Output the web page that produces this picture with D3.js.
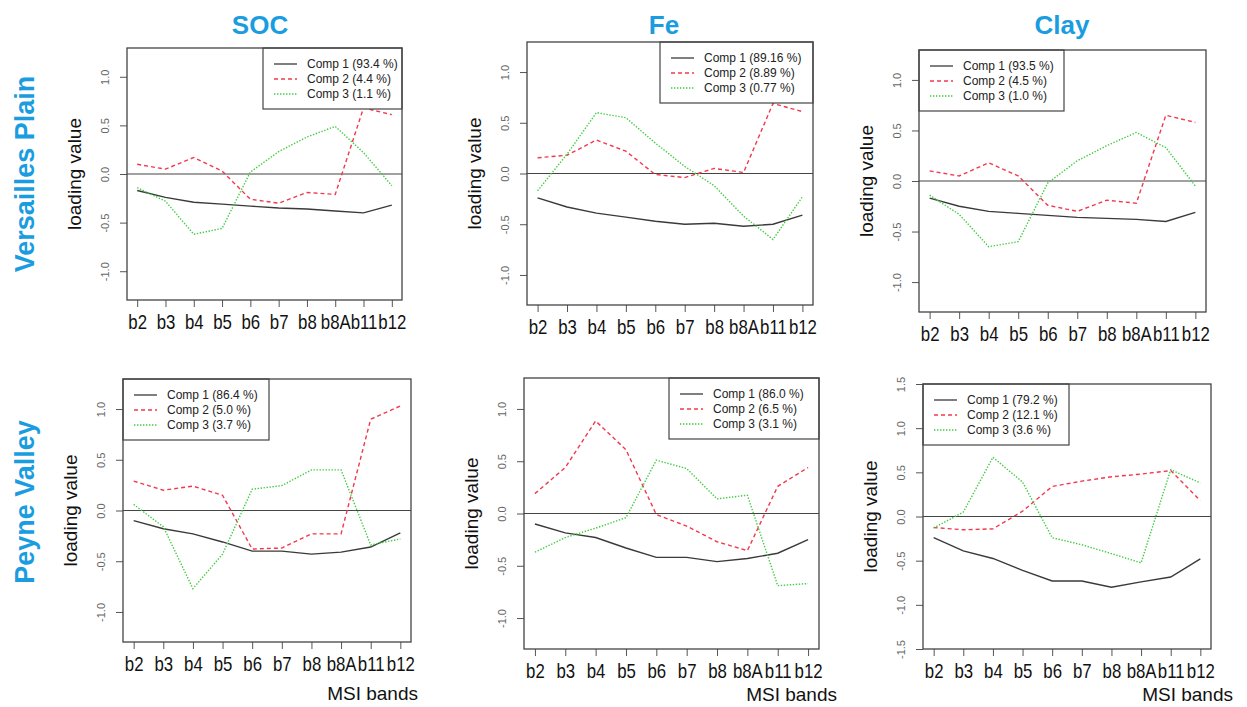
<!DOCTYPE html>
<html>
<head>
<meta charset="utf-8">
<script src="https://cdn.jsdelivr.net/npm/d3@7"></script>
<style>
  body { margin: 0; background: #fff; }
  text { font-family: "Liberation Sans", Arial, sans-serif; }
</style>
</head>
<body>
<div id="chart"></div>
<script>
// MSI bands on the x axis
var bands = ["b2", "b3", "b4", "b5", "b6", "b7", "b8", "b8A", "b11", "b12"];

// Versailles Plain
var socVersailles1 = [-0.17, -0.24, -0.29, -0.31, -0.33, -0.35, -0.36, -0.38, -0.40, -0.32];
var socVersailles2 = [0.10, 0.05, 0.17, 0.03, -0.26, -0.30, -0.19, -0.21, 0.68, 0.61];
var socVersailles3 = [-0.14, -0.28, -0.62, -0.56, 0.02, 0.23, 0.38, 0.49, 0.22, -0.12];
var socVersaillesPct = ["93.4", "4.4", "1.1"];

var feVersailles1 = [-0.24, -0.33, -0.39, -0.43, -0.47, -0.50, -0.49, -0.52, -0.50, -0.41];
var feVersailles2 = [0.155, 0.18, 0.33, 0.22, -0.01, -0.04, 0.05, 0.01, 0.69, 0.61];
var feVersailles3 = [-0.17, 0.19, 0.60, 0.55, 0.30, 0.07, -0.12, -0.42, -0.65, -0.23];
var feVersaillesPct = ["89.16", "8.89", "0.77"];

var clayVersailles1 = [-0.17, -0.25, -0.30, -0.32, -0.34, -0.36, -0.37, -0.38, -0.40, -0.31];
var clayVersailles2 = [0.10, 0.05, 0.18, 0.05, -0.24, -0.30, -0.19, -0.22, 0.65, 0.58];
var clayVersailles3 = [-0.14, -0.33, -0.65, -0.60, -0.02, 0.20, 0.35, 0.48, 0.33, -0.05];
var clayVersaillesPct = ["93.5", "4.5", "1.0"];

// Peyne Valley
var socPeyne1 = [-0.10, -0.18, -0.23, -0.31, -0.40, -0.40, -0.43, -0.41, -0.36, -0.22];
var socPeyne2 = [0.29, 0.20, 0.24, 0.15, -0.38, -0.37, -0.23, -0.23, 0.90, 1.03];
var socPeyne3 = [0.06, -0.16, -0.77, -0.43, 0.21, 0.245, 0.40, 0.40, -0.34, -0.28];
var socPeynePct = ["86.4", "5.0", "3.7"];

var fePeyne1 = [-0.10, -0.185, -0.23, -0.33, -0.42, -0.42, -0.46, -0.43, -0.38, -0.25];
var fePeyne2 = [0.19, 0.44, 0.885, 0.61, -0.01, -0.12, -0.27, -0.355, 0.26, 0.44];
var fePeyne3 = [-0.37, -0.23, -0.14, -0.04, 0.51, 0.43, 0.14, 0.175, -0.69, -0.67];
var fePeynePct = ["86.0", "6.5", "3.1"];

var clayPeyne1 = [-0.24, -0.39, -0.475, -0.61, -0.73, -0.73, -0.80, -0.74, -0.685, -0.48];
var clayPeyne2 = [-0.125, -0.15, -0.14, 0.06, 0.34, 0.40, 0.45, 0.48, 0.52, 0.18];
var clayPeyne3 = [-0.13, 0.05, 0.67, 0.39, -0.24, -0.32, -0.42, -0.525, 0.53, 0.38];
var clayPeynePct = ["79.2", "12.1", "3.6"];

var yTicks = [-1, -0.5, 0, 0.5, 1];
var yTicksWide = [-1.5, -1, -0.5, 0, 0.5, 1, 1.5];

var columnTitles = ["SOC", "Fe", "Clay"];
var rowTitles = ["Versailles Plain", "Peyne Valley"];

var compColors = ["#3a3a3a", "#f2384e", "#3fcc3f"];
var compDash = [null, "4,3", "1.4,1.6"];

var svg = d3.select("#chart")
  .append("svg")
  .attr("width", 1247)
  .attr("height", 707);

var panels = [
  { comps: [socVersailles1, socVersailles2, socVersailles3], pct: socVersaillesPct, ticks: yTicks, ymax: 1.296,
    box: { x: 127, y: 48, w: 275, h: 252 }, legend: { side: "right", w: 139 }, xlab: null },
  { comps: [feVersailles1, feVersailles2, feVersailles3], pct: feVersaillesPct, ticks: yTicks, ymax: 1.296,
    box: { x: 527, y: 42, w: 286, h: 263 }, legend: { side: "right", w: 153 }, xlab: null },
  { comps: [clayVersailles1, clayVersailles2, clayVersailles3], pct: clayVersaillesPct, ticks: yTicks, ymax: 1.296,
    box: { x: 919, y: 50, w: 287, h: 262 }, legend: { side: "left", w: 145 }, xlab: null },
  { comps: [socPeyne1, socPeyne2, socPeyne3], pct: socPeynePct, ticks: yTicks, ymax: 1.296,
    box: { x: 123, y: 379, w: 288, h: 263 }, legend: { side: "left", w: 146 }, xlab: { right: 418, base: 700 } },
  { comps: [fePeyne1, fePeyne2, fePeyne3], pct: fePeynePct, ticks: yTicks, ymax: 1.296,
    box: { x: 524, y: 378, w: 295, h: 271 }, legend: { side: "right", w: 150 }, xlab: { right: 837, base: 701 } },
  { comps: [clayPeyne1, clayPeyne2, clayPeyne3], pct: clayPeynePct, ticks: yTicksWide, ymax: 1.5,
    box: { x: 923, y: 384, w: 288, h: 265 }, legend: { side: "left", w: 146 }, xlab: { right: 1233, base: 701 } }
];

panels.forEach(function(p) {
  var b = p.box;
  var g = svg.append("g").attr("transform", `translate(${b.x}, ${b.y})`);

  var x = d3.scaleLinear().domain([0.64, 10.36]).range([0, b.w]);
  var y = d3.scaleLinear().domain([-p.ymax, p.ymax]).range([b.h, 0]);

  // x axis, labels narrowed a bit like the original
  var xAxis = g.append("g")
    .attr("transform", `translate(0, ${b.h})`)
    .call(d3.axisBottom(x).tickValues(d3.range(1, 11))
      .tickFormat(i => bands[i - 1]).tickSize(7).tickSizeOuter(0));
  xAxis.select(".domain").remove();
  xAxis.selectAll("line").attr("stroke", "#555");
  xAxis.selectAll("text")
    .attr("y", 15)
    .attr("transform", "scale(0.84,1)")
    .attr("fill", "#111")
    .style("font-size", "20px");

  // y axis with rotated labels
  var yAxis = g.append("g")
    .call(d3.axisLeft(y).tickValues(p.ticks).tickFormat(d => d.toFixed(1)).tickSize(7).tickSizeOuter(0));
  yAxis.select(".domain").remove();
  yAxis.selectAll("line").attr("stroke", "#555");
  yAxis.selectAll("text")
    .attr("transform", "rotate(-90)")
    .attr("x", 0)
    .attr("y", -22)
    .attr("dy", "0.35em")
    .attr("text-anchor", "middle")
    .attr("fill", "#666")
    .style("font-size", "11px");

  g.append("text")
    .attr("transform", `translate(${-46}, ${b.h / 2}) rotate(-90)`)
    .attr("text-anchor", "middle")
    .attr("fill", "#111")
    .style("font-size", "19px")
    .text("loading value");

  // zero line
  g.append("line")
    .attr("x1", 0).attr("x2", b.w)
    .attr("y1", y(0)).attr("y2", y(0))
    .attr("stroke", "#444")
    .attr("stroke-width", 1.2);

  var line = d3.line()
    .x((d, i) => x(i + 1))
    .y(d => y(d));

  p.comps.forEach(function(vals, k) {
    g.append("path")
      .datum(vals)
      .attr("d", line)
      .attr("fill", "none")
      .attr("stroke", compColors[k])
      .attr("stroke-width", 1.4)
      .attr("stroke-dasharray", compDash[k]);
  });

  // legend
  var lx = p.legend.side === "right" ? b.w - p.legend.w : 0;
  var leg = g.append("g").attr("transform", `translate(${lx}, 0)`);
  leg.append("rect")
    .attr("width", p.legend.w).attr("height", 61)
    .attr("fill", "#fff")
    .attr("stroke", "#444")
    .attr("stroke-width", 1.2);
  p.pct.forEach(function(v, k) {
    var ry = 16 + k * 15;
    leg.append("line")
      .attr("x1", 11).attr("x2", 34)
      .attr("y1", ry).attr("y2", ry)
      .attr("stroke", compColors[k])
      .attr("stroke-width", 1.3)
      .attr("stroke-dasharray", compDash[k]);
    leg.append("text")
      .attr("x", 44).attr("y", ry)
      .attr("dy", "0.35em")
      .attr("fill", "#222")
      .style("font-size", "12px")
      .text(`Comp ${k + 1} (${v} %)`);
  });

  // plot box
  g.append("rect")
    .attr("width", b.w).attr("height", b.h)
    .attr("fill", "none")
    .attr("stroke", "#444")
    .attr("stroke-width", 1.3);

  if (p.xlab) {
    svg.append("text")
      .attr("x", p.xlab.right)
      .attr("y", p.xlab.base)
      .attr("text-anchor", "end")
      .attr("fill", "#111")
      .style("font-size", "19px")
      .text("MSI bands");
  }
});

// column and row titles
var colX = [260, 664, 1062];
svg.selectAll("text.coltitle")
  .data(columnTitles)
  .enter()
  .append("text")
  .attr("class", "coltitle")
  .attr("x", (d, i) => colX[i])
  .attr("y", 34)
  .attr("text-anchor", "middle")
  .attr("fill", "#1a9de0")
  .style("font-size", "26px")
  .style("font-weight", "bold")
  .text(d => d);

var rowY = [174, 502];
svg.selectAll("text.rowtitle")
  .data(rowTitles)
  .enter()
  .append("text")
  .attr("class", "rowtitle")
  .attr("transform", (d, i) => `translate(34, ${rowY[i]}) rotate(-90)`)
  .attr("text-anchor", "middle")
  .attr("fill", "#1a9de0")
  .style("font-size", "27px")
  .style("font-weight", "bold")
  .text(d => d);
</script>
</body>
</html>
